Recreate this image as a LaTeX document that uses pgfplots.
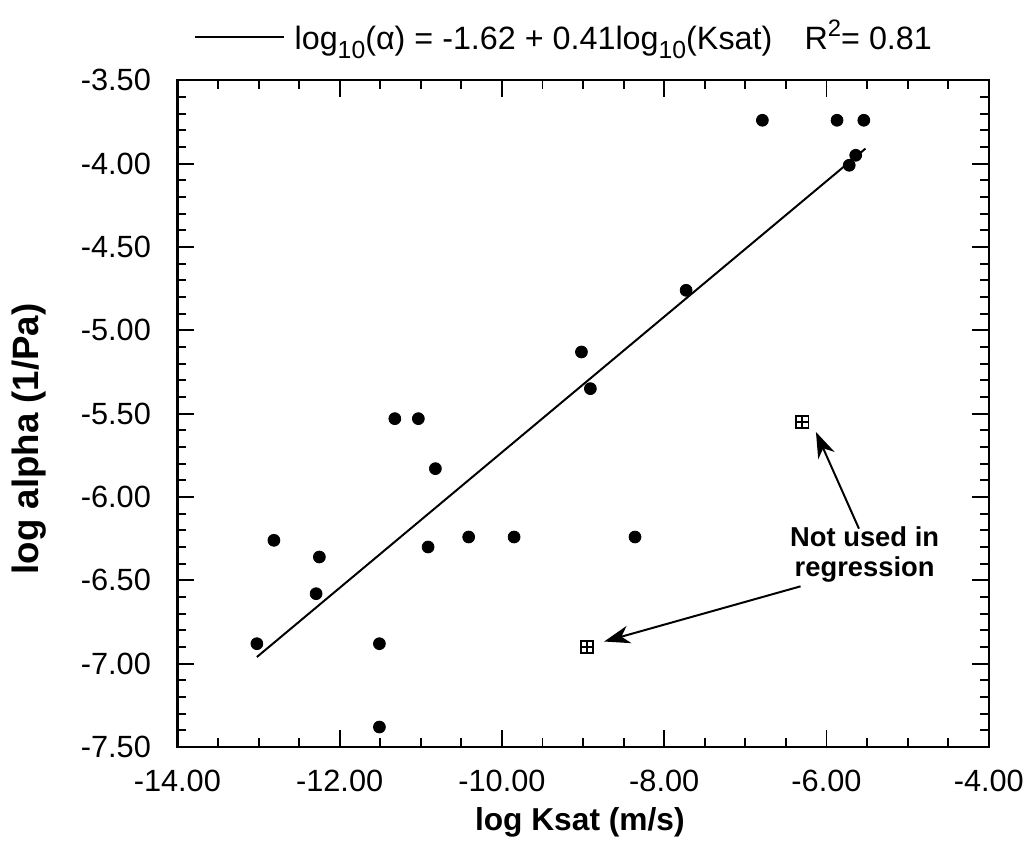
\documentclass[border=0pt]{standalone}
\usepackage{fontspec}
\setmainfont{Liberation Sans}
\usepackage{pgfplots}
\pgfplotsset{compat=1.18}
\usetikzlibrary{arrows.meta}
\pgfdeclareplotmark{boxplus}{%
  \pgfpathrectangle{\pgfqpoint{-\pgfplotmarksize}{-\pgfplotmarksize}}{\pgfqpoint{2\pgfplotmarksize}{2\pgfplotmarksize}}%
  \pgfpathmoveto{\pgfqpoint{-\pgfplotmarksize}{0pt}}\pgfpathlineto{\pgfqpoint{\pgfplotmarksize}{0pt}}%
  \pgfpathmoveto{\pgfqpoint{0pt}{-\pgfplotmarksize}}\pgfpathlineto{\pgfqpoint{0pt}{\pgfplotmarksize}}%
  \pgfusepathqstroke}
\newcommand{\lsub}[1]{\raisebox{-0.55ex}{\fontsize{12.5}{13}\selectfont #1}}
\newcommand{\lsup}[1]{\raisebox{0.75ex}{\fontsize{12}{13}\selectfont #1}}
\begin{document}
\fontsize{15.5}{18}\selectfont
\begin{tikzpicture}
\begin{axis}[
  scale only axis, width=409.5pt, height=336.5pt,
  xmin=-14, xmax=-4, ymin=-7.5, ymax=-3.5,
  xtick={-14,-12,-10,-8,-6,-4},
  ytick={-7.5,-7,-6.5,-6,-5.5,-5,-4.5,-4,-3.5},
  minor x tick num=3, minor y tick num=4,
  tick align=inside,
  major tick length=8.5pt, minor tick length=4.5pt,
  every tick/.style={black, line width=1pt},
  axis line style={line width=1.2pt},
  clip=false,
  /pgf/number format/fixed,
  /pgf/number format/fixed zerofill,
  /pgf/number format/precision=2,
  /pgf/number format/assume math mode=true,
  tick label style={font=\fontsize{15.5}{18}\selectfont},
  xticklabel style={yshift=-6pt},
  yticklabel style={xshift=-8pt},
  xlabel={log Ksat (m/s)},
  ylabel={log alpha (1/Pa)},
  xlabel style={font=\fontsize{16}{19}\bfseries\selectfont, at={(axis description cs:0.496,-0.113)}, anchor=center},
  ylabel style={font=\fontsize{18.5}{21}\bfseries\selectfont, at={(axis description cs:-0.183,0.462)}, anchor=center},
  legend style={at={(axis description cs:0.0195,1.065)}, anchor=west, draw=none, fill=none, inner sep=0pt,
    font=\fontsize{16.3}{19}\selectfont},
  legend image code/.code={\draw[#1] (0pt,0pt) -- (45pt,0pt);},
]
\addplot[black, line width=1pt, mark=none] coordinates {(-13.02,-6.96) (-5.52,-3.91)};
\addlegendentry{\hspace{3pt}log\lsub{10}(α) = -1.62 + 0.41log\lsub{10}(Ksat)\quad R\lsup{2}= 0.81}
\addplot[only marks, mark=*, mark size=3pt, black, forget plot] coordinates {
(-13.02,-6.88) (-12.81,-6.26) (-12.25,-6.36) (-12.29,-6.58) (-11.51,-6.88) (-11.51,-7.38)
(-11.32,-5.53) (-11.03,-5.53) (-10.82,-5.83) (-10.91,-6.30) (-10.41,-6.24) (-9.85,-6.24)
(-9.02,-5.13) (-8.91,-5.35) (-8.36,-6.24) (-7.73,-4.76) (-6.79,-3.74) (-5.87,-3.74)
(-5.54,-3.74) (-5.64,-3.95) (-5.72,-4.01)};
\addplot[only marks, mark=boxplus, mark size=3.1pt, black, line width=0.8pt, forget plot] coordinates {
(-8.95,-6.90) (-6.30,-5.55)};
\node[font=\fontsize{13.8}{15}\bfseries\selectfont, align=center] at (axis cs:-5.53,-6.345) {Not used in\\regression};
\draw[-{Stealth[length=13pt,width=9pt,inset=4pt]}, line width=1pt] (axis cs:-5.60,-6.19) -- (axis cs:-6.13,-5.61);
\draw[-{Stealth[length=13pt,width=9pt,inset=4pt]}, line width=1pt] (axis cs:-6.32,-6.536) -- (axis cs:-8.74,-6.867);
\path (rel axis cs:-0.2186,-0.150) rectangle (rel axis cs:1.044,1.1204);
\end{axis}
\end{tikzpicture}
\end{document}
